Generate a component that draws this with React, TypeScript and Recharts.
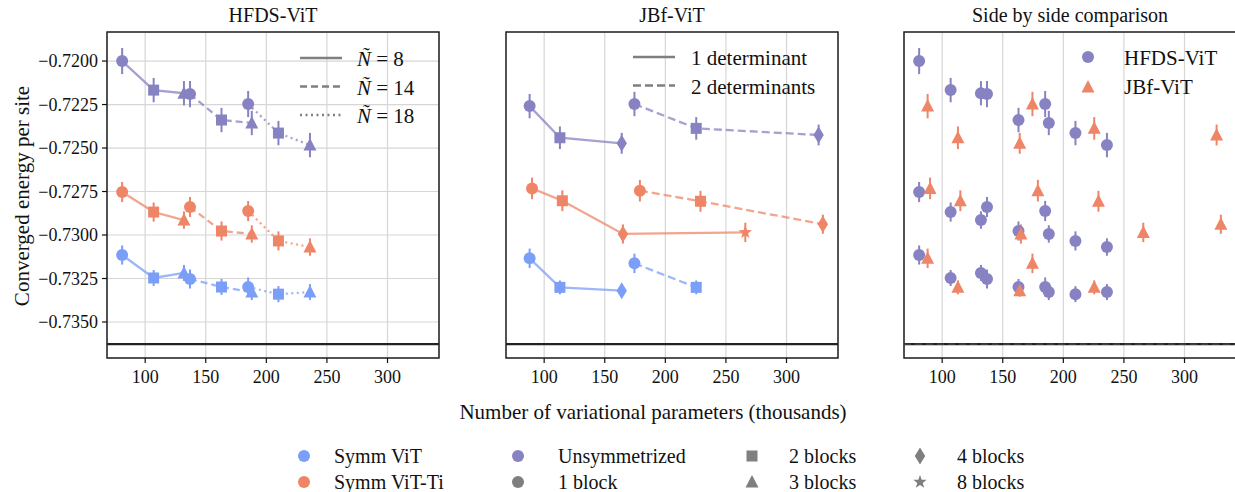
import React from "react";
import {
  CartesianGrid,
  ErrorBar,
  ReferenceArea,
  ReferenceLine,
  Scatter,
  ScatterChart,
  XAxis,
  YAxis,
} from "recharts";

const blue = "#7b9ff8";
const orange = "#ef8567";
const purple = "#8783c2";
const grey = "#7f7f7f";
const font = "'Liberation Serif', 'Times New Roman', serif";

const xTicks = [100, 150, 200, 250, 300];
const yTicks = [-0.735, -0.7325, -0.73, -0.7275, -0.725, -0.7225, -0.72];
const xDomain = [68.5, 342.5];
const yDomain = [-0.73707, -0.71833];
const exactEnergy = -0.73627;

// HFDS-ViT (x = parameters in thousands), points are 1, 2, 3 blocks
const hfdsShapes = ["circle", "square", "triangle"];
const hfdsX8 = [81, 107, 132];
const hfdsX14 = [137, 163, 188];
const hfdsX18 = [185, 210, 236];
const hfdsUnsym8 = [-0.72, -0.72167, -0.72185];
const hfdsUnsym14 = [-0.7219, -0.72339, -0.72356];
const hfdsUnsym18 = [-0.72247, -0.72414, -0.72483];
const hfdsUnsymErr = [0.00075, 0.0007, 0.0007];
const hfdsTi8 = [-0.72753, -0.72868, -0.72914];
const hfdsTi14 = [-0.72839, -0.72977, -0.72994];
const hfdsTi18 = [-0.72862, -0.73034, -0.73069];
const hfdsTiErr = [0.00058, 0.00055, 0.0005];
const hfdsSymm8 = [-0.73115, -0.73247, -0.73218];
const hfdsSymm14 = [-0.73253, -0.73299, -0.73328];
const hfdsSymm18 = [-0.73299, -0.7334, -0.73328];
const hfdsSymmErr = [0.00055, 0.00046, 0.00046];

// JBf-ViT, 1 determinant: 1, 2, 4, 8 blocks; 2 determinants: 1, 2, 4 blocks
const jbfShapes1 = ["circle", "square", "diamond", "star"];
const jbfShapes2 = ["circle", "square", "diamond"];
const jbfUnsymX1 = [88, 113, 164];
const jbfUnsym1 = [-0.72259, -0.72441, -0.72473];
const jbfUnsymX2 = [174.5, 225.5, 326.5];
const jbfUnsym2 = [-0.72247, -0.72387, -0.72425];
const jbfUnsymErr = [0.0007, 0.00065, 0.0006];
const jbfTiX1 = [90, 115, 165, 266];
const jbfTi1 = [-0.72732, -0.72803, -0.72994, -0.72985];
const jbfTiX2 = [179, 229, 330];
const jbfTi2 = [-0.72745, -0.72806, -0.72938];
const jbfTiErr = [0.00062, 0.0006, 0.00055, 0.00056];
const jbfSymmX1 = [88, 113, 164];
const jbfSymm1 = [-0.73134, -0.73301, -0.7332];
const jbfSymmX2 = [174.5, 225.5];
const jbfSymm2 = [-0.73163, -0.73301];
const jbfSymmErr = [0.00056, 0.0004, 0.00035];

type Pt = { x: number; y: number; err: number; m: string };

const pts = (xs: number[], ys: number[], errs: number[], shapes: string[]): Pt[] =>
  xs.map((x, i) => ({ x, y: ys[i], err: errs[i], m: shapes[i] }));

function Marker({ cx, cy, kind, color }: { cx: number; cy: number; kind: string; color: string }) {
  if (cx == null || cy == null) return null;
  switch (kind) {
    case "square":
      return <rect x={cx - 5.5} y={cy - 5.5} width={11} height={11} fill={color} />;
    case "triangle":
      return <polygon points={`${cx},${cy - 7} ${cx - 6.5},${cy + 5.5} ${cx + 6.5},${cy + 5.5}`} fill={color} />;
    case "diamond":
      return <polygon points={`${cx},${cy - 8.5} ${cx + 5.2},${cy} ${cx},${cy + 8.5} ${cx - 5.2},${cy}`} fill={color} />;
    case "star": {
      const p: string[] = [];
      for (let i = 0; i < 10; i++) {
        const r = i % 2 === 0 ? 7 : 2.9;
        const a = (Math.PI / 5) * i - Math.PI / 2;
        p.push(`${cx + r * Math.cos(a)},${cy + r * Math.sin(a)}`);
      }
      return <polygon points={p.join(" ")} fill={color} />;
    }
    default:
      return <circle cx={cx} cy={cy} r={6} fill={color} />;
  }
}

type Series = { data: Pt[]; color: string; dash?: string; line?: boolean; forceShape?: string };

function Panel({ left, series, yLabels, refDash }: { left: number; series: Series[]; yLabels: boolean; refDash?: boolean }) {
  return (
    <div style={{ position: "absolute", left: left - 100, top: 22 }}>
      <ScatterChart width={440} height={381} margin={{ top: 10, right: 8, bottom: 0, left: 0 }}>
        <CartesianGrid stroke="#d6d6d6" strokeWidth={1.2} />
        <XAxis
          type="number"
          dataKey="x"
          domain={xDomain}
          ticks={xTicks}
          allowDataOverflow
          height={45}
          axisLine={false}
          tickLine={{ stroke: "#111", strokeWidth: 1.2 }}
          tickSize={5}
          tickMargin={7}
          tick={{ fill: "#111", fontSize: 18, fontFamily: font }}
        />
        <YAxis
          type="number"
          dataKey="y"
          domain={yDomain}
          ticks={yTicks}
          allowDataOverflow
          width={100}
          axisLine={false}
          tickLine={{ stroke: "#111", strokeWidth: 1.2 }}
          tickSize={5}
          tickMargin={4}
          tick={yLabels ? { fill: "#111", fontSize: 18, fontFamily: font } : false}
          tickFormatter={(v: number) => "\u2212" + Math.abs(v).toFixed(4)}
        />
        <ReferenceLine y={exactEnergy} stroke="#222" strokeWidth={2.4} />
        {refDash && <ReferenceLine y={exactEnergy} stroke="#555" strokeWidth={1} strokeDasharray="7 4" />}
        {series.map((s, i) => (
          <Scatter
            key={i}
            data={s.data}
            isAnimationActive={false}
            fill={s.color}
            line={s.line === false ? false : { stroke: s.color, strokeWidth: 2.3, strokeOpacity: 0.75, strokeDasharray: s.dash }}
            lineType="joint"
            shape={(p: any) => <Marker cx={p.cx} cy={p.cy} kind={s.forceShape ?? p.payload?.m ?? p.m} color={s.color} />}
          >
            <ErrorBar dataKey="err" direction="y" width={0} strokeWidth={2} stroke={s.color} />
          </Scatter>
        ))}
        <ReferenceArea
          x1={xDomain[0]}
          x2={xDomain[1]}
          y1={yDomain[0]}
          y2={yDomain[1]}
          fill="none"
          fillOpacity={0}
          stroke="#222"
          strokeWidth={1.5}
          ifOverflow="visible"
        />
      </ScatterChart>
    </div>
  );
}

const dashed = "7 4";
const dotted = "2 3.5";

const hfdsSeries: Series[] = [
  { data: pts(hfdsX8, hfdsUnsym8, hfdsUnsymErr, hfdsShapes), color: purple },
  { data: pts(hfdsX14, hfdsUnsym14, hfdsUnsymErr, hfdsShapes), color: purple, dash: dashed },
  { data: pts(hfdsX18, hfdsUnsym18, hfdsUnsymErr, hfdsShapes), color: purple, dash: dotted },
  { data: pts(hfdsX8, hfdsTi8, hfdsTiErr, hfdsShapes), color: orange },
  { data: pts(hfdsX14, hfdsTi14, hfdsTiErr, hfdsShapes), color: orange, dash: dashed },
  { data: pts(hfdsX18, hfdsTi18, hfdsTiErr, hfdsShapes), color: orange, dash: dotted },
  { data: pts(hfdsX8, hfdsSymm8, hfdsSymmErr, hfdsShapes), color: blue },
  { data: pts(hfdsX14, hfdsSymm14, hfdsSymmErr, hfdsShapes), color: blue, dash: dashed },
  { data: pts(hfdsX18, hfdsSymm18, hfdsSymmErr, hfdsShapes), color: blue, dash: dotted },
];

const jbfSeries: Series[] = [
  { data: pts(jbfUnsymX1, jbfUnsym1, jbfUnsymErr, jbfShapes1), color: purple },
  { data: pts(jbfUnsymX2, jbfUnsym2, jbfUnsymErr, jbfShapes2), color: purple, dash: "8 4" },
  { data: pts(jbfTiX1, jbfTi1, jbfTiErr, jbfShapes1), color: orange },
  { data: pts(jbfTiX2, jbfTi2, jbfTiErr, jbfShapes2), color: orange, dash: "8 4" },
  { data: pts(jbfSymmX1, jbfSymm1, jbfSymmErr, jbfShapes1), color: blue },
  { data: pts(jbfSymmX2, jbfSymm2, jbfSymmErr, jbfShapes2), color: blue, dash: "8 4" },
];

const compareSeries: Series[] = [
  { data: hfdsSeries.flatMap((s) => s.data), color: purple, line: false, forceShape: "circle" },
  { data: jbfSeries.flatMap((s) => s.data), color: orange, line: false, forceShape: "triangle" },
];

const nTilde = ["8", "14", "18"];
const lineDashes = [undefined, dashed, dotted];
const detLabels = ["1 determinant", "2 determinants"];

const bottomLegend = [
  { x: 304, y: 456, kind: "circle", color: blue, label: "Symm ViT" },
  { x: 304, y: 482, kind: "circle", color: orange, label: "Symm ViT-Ti" },
  { x: 518, y: 456, kind: "circle", color: purple, label: "Unsymmetrized" },
  { x: 518, y: 482, kind: "circle", color: grey, label: "1 block" },
  { x: 752, y: 456, kind: "square", color: grey, label: "2 blocks" },
  { x: 752, y: 482, kind: "triangle", color: grey, label: "3 blocks" },
  { x: 920, y: 456, kind: "diamond", color: grey, label: "4 blocks" },
  { x: 920, y: 482, kind: "star", color: grey, label: "8 blocks" },
];

export default function App() {
  const txt = { fontFamily: font, fill: "#111" };
  return (
    <div style={{ position: "absolute", left: 0, top: 0, width: 1235, height: 492, background: "#fff", overflow: "hidden" }}>
      <Panel left={107} series={hfdsSeries} yLabels />
      <Panel left={506} series={jbfSeries} yLabels={false} />
      <Panel left={904} series={compareSeries} yLabels={false} refDash />
      <svg width={1235} height={492} style={{ position: "absolute", left: 0, top: 0, pointerEvents: "none" }}>
        <text x={273} y={22} textAnchor="middle" fontSize={20} {...txt}>HFDS-ViT</text>
        <text x={672} y={22} textAnchor="middle" fontSize={20} {...txt}>JBf-ViT</text>
        <text x={1070} y={22} textAnchor="middle" fontSize={20} {...txt}>Side by side comparison</text>
        <text x={653} y={419} textAnchor="middle" fontSize={21} {...txt}>Number of variational parameters (thousands)</text>
        <text
          x={22}
          y={196}
          textAnchor="middle"
          dominantBaseline="central"
          fontSize={21}
          transform="rotate(-90 22 196)"
          {...txt}
        >
          Converged energy per site
        </text>

        {nTilde.map((n, i) => (
          <g key={n}>
            <line x1={300} x2={342} y1={58 + i * 28.5} y2={58 + i * 28.5} stroke={grey} strokeWidth={2.5} strokeDasharray={lineDashes[i]} />
            <text x={357} y={59 + i * 28.5} dominantBaseline="central" fontSize={21} {...txt}>
              <tspan fontStyle="italic">Ñ</tspan>
              <tspan> = {n}</tspan>
            </text>
          </g>
        ))}
        {detLabels.map((d, i) => (
          <g key={d}>
            <line x1={633} x2={675} y1={57 + i * 28.5} y2={57 + i * 28.5} stroke={grey} strokeWidth={2.5} strokeDasharray={i ? "8 4" : undefined} />
            <text x={691} y={58 + i * 28.5} dominantBaseline="central" fontSize={21} {...txt}>{d}</text>
          </g>
        ))}
        <Marker cx={1088} cy={57} kind="circle" color={purple} />
        <text x={1124} y={58} dominantBaseline="central" fontSize={21} {...txt}>HFDS-ViT</text>
        <Marker cx={1088} cy={87} kind="triangle" color={orange} />
        <text x={1124} y={87} dominantBaseline="central" fontSize={21} {...txt}>JBf-ViT</text>

        {bottomLegend.map((e) => (
          <g key={e.label}>
            <Marker cx={e.x} cy={e.y} kind={e.kind} color={e.color} />
            <text x={e.x + (e.x > 700 ? 37 : 30) + (e.x === 518 ? 10 : 0)} y={e.y} dominantBaseline="central" fontSize={20} {...txt}>
              {e.label}
            </text>
          </g>
        ))}
      </svg>
    </div>
  );
}
